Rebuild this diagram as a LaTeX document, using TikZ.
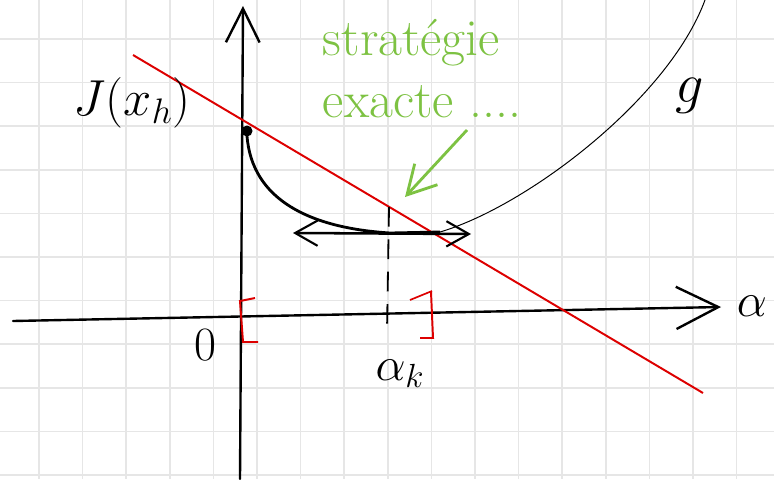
\RequirePackage{fix-cm}
\documentclass[tikz,border=0pt]{standalone}
\usepackage{amsmath}
\usepackage{tikz}
\usetikzlibrary{arrows.meta,calc,positioning}
\definecolor{Grid}{HTML}{E6E6E6}
\definecolor{Ink}{HTML}{000000}
\definecolor{Pen}{HTML}{DD0000}
\definecolor{Leaf}{HTML}{7DC242}

\tikzset{
  axis/.style={Ink,line width=1.7pt,line cap=round},
  barb/.style={-{Straight Barb[length=#1,width=#1,line width=1.7pt]}},
  hand/.style={font=\fontsize{34}{40}\selectfont}
}

\begin{document}
\begin{tikzpicture}[x=0.025cm,y=-0.025cm]
    \fill[white] (0,0) rectangle (774,479);
    \useasboundingbox (0,0) rectangle (774,479);
    % squared paper
    \foreach \k in {0,...,16}
      \draw[Grid,line width=1.2pt] ({39+43.6*\k},0) -- ({39+43.6*\k},479);
    \foreach \k in {0,...,10}
      \draw[Grid,line width=1.2pt] (0,{39+43.6*\k}) -- (774,{39+43.6*\k});

    % axes
    \coordinate (xstart) at (13,321);
    \coordinate (xend) at (721,307);
    \coordinate (ystart) at (240,479);
    \coordinate (yend) at (243,6);
    \draw[axis,barb=30pt] (xstart) -- (xend);
    \draw[axis,barb=24pt] (ystart) -- (yend);

    \node[hand,anchor=west] (alpha) at (732,306) {$\alpha$};
    \node[hand] (zero) at (205,345) {$0$};

    % tangent at alpha = 0
    \coordinate (tanA) at (133,55);
    \coordinate (tanB) at (703,393);
    \draw[Pen,line width=1.4pt] (tanA) -- (tanB);

    % the function g
    \fill[Ink] (247,131) circle (5.5) coordinate (J0);
    \node[hand,font=\fontsize{36}{40}\selectfont] (Jxh) at (132,103) {$J(x_h)$};
    \coordinate (gmin) at (390,233);
    \coordinate (gflat) at (440,232);
    \coordinate (gtop) at (705,0);
    \draw[Ink,line width=2pt] (247,136) .. controls (252,200) and (310,228) .. (gmin) -- (gflat);
    \draw[Ink,line width=0.7pt] (gflat) .. controls (528,206) and (669,98) .. (gtop);
    \node[hand,font=\fontsize{40}{44}\selectfont] (g) at (690,96) {$g$};

    % search for the minimum
    \coordinate (srchL) at (293,233);
    \coordinate (srchR) at (471,234);
    \draw[Ink,line width=1.8pt,{Straight Barb[length=16pt,width=18pt,line width=1.5pt]}-{Straight Barb[length=16pt,width=18pt,line width=1.5pt]}] (srchL) -- (srchR);

    \coordinate (akTop) at (389,207);
    \coordinate (akBot) at (387,332);
    \draw[Ink,line width=1.3pt,dash pattern=on 14pt off 9pt] (akTop) -- (akBot);
    \node[hand] (ak) at (400,374) {$\alpha_k$};

    % interval of search
    \draw[Pen,line width=1.4pt] (255,298) -- (240,301) -- (243,342) -- (258,342);
    \draw[Pen,line width=1.4pt] (420,338) -- (433,338) -- (431,292);
    \draw[Pen,line width=1.2pt] (410,300) -- (432,291);

    % comment
    \node[hand,font=\fontsize{37}{44}\selectfont,text=Leaf,align=left,anchor=north west] (strat) at (318,14) {strat\'egie\\exacte ....};
    \coordinate (stratTip) at (405,197);
    \draw[Leaf,line width=2pt,-{Straight Barb[length=20pt,width=22pt,line width=2pt]}] (467,130) -- (stratTip);
  \end{tikzpicture}
\end{document}
